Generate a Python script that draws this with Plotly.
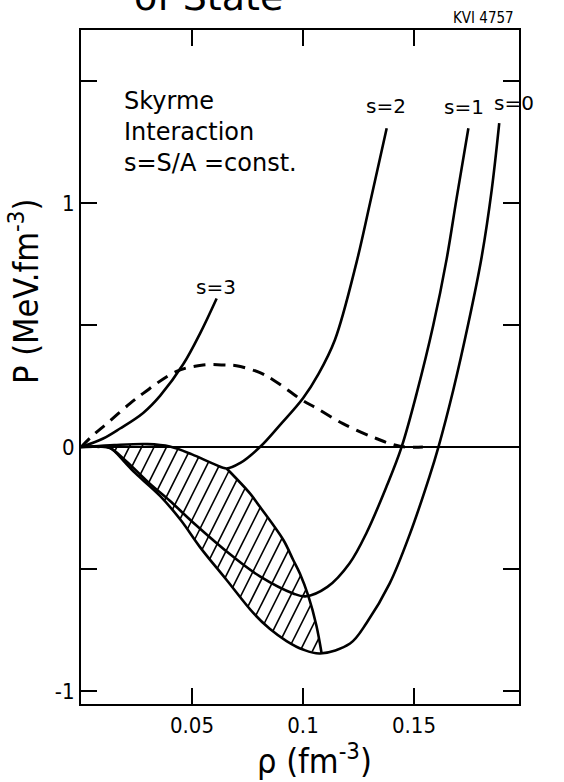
import numpy as np
import plotly.graph_objects as go

# ---------------- data ----------------
rho_s0 = [0.0, 0.007, 0.013, 0.020, 0.0236, 0.0356, 0.045, 0.0536, 0.0656, 0.0776, 0.085,
          0.0926, 0.100, 0.1077, 0.1212, 0.1287, 0.139, 0.148, 0.157, 0.161, 0.1677,
          0.1745, 0.1805, 0.185, 0.1884]
p_s0 = [0.0, 0.001, -0.003, -0.065, -0.10, -0.20, -0.30, -0.41, -0.545, -0.68, -0.745,
        -0.795, -0.83, -0.846, -0.805, -0.72, -0.56, -0.36, -0.12, 0.0, 0.234,
        0.507, 0.78, 1.053, 1.327]

rho_s1 = [0.0, 0.007, 0.013, 0.020, 0.031, 0.040, 0.0506, 0.0686, 0.0806, 0.0956, 0.101,
          0.111, 0.121, 0.1287, 0.1377, 0.1444, 0.1512, 0.1587, 0.1647, 0.1692, 0.1745]
p_s1 = [0.0, 0.001, -0.004, -0.055, -0.15, -0.22, -0.31, -0.45, -0.53, -0.60, -0.612,
        -0.573, -0.476, -0.35, -0.16, 0.0, 0.22, 0.50, 0.77, 1.02, 1.306]

rho_s2 = [0.0, 0.008, 0.015, 0.030, 0.040, 0.050, 0.060, 0.0656, 0.0716, 0.0806, 0.0896,
          0.100, 0.107, 0.1144, 0.1242, 0.1302, 0.1377]
p_s2 = [0.0, 0.004, 0.008, 0.012, 0.002, -0.03, -0.07, -0.088, -0.066, 0.0, 0.09,
        0.20, 0.30, 0.44, 0.76, 1.0, 1.306]

rho_s3 = [0.0, 0.010, 0.0176, 0.028, 0.0356, 0.0461, 0.0536, 0.0611]
p_s3 = [0.0, 0.035, 0.076, 0.14, 0.21, 0.34, 0.465, 0.609]

rho_dash = [0.0, 0.0056, 0.0116, 0.022, 0.028, 0.043, 0.055, 0.065, 0.070, 0.0806, 0.0866,
            0.100, 0.106, 0.118, 0.133, 0.1437, 0.154]
p_dash = [0.0, 0.05, 0.096, 0.178, 0.22, 0.31, 0.336, 0.336, 0.333, 0.305, 0.275,
          0.19, 0.16, 0.096, 0.035, 0.003, 0.0]

# boundary of the hatched (unstable) region: locus from s=2 minimum to s=0 minimum
rho_locus = [0.0656, 0.0761, 0.0806, 0.0911, 0.0956, 0.0986, 0.1024, 0.1060, 0.1084]
p_locus = [-0.088, -0.19, -0.245, -0.38, -0.463, -0.518, -0.61, -0.73, -0.846]

x_tickvals = [0.05, 0.1, 0.15]
x_ticktext = ["0.05", "0.1", "0.15"]
y_tickvals = [-1, -0.5, 0, 0.5, 1, 1.5]
y_ticktext = ["-1", "", "0", "", "1", ""]

curve_labels = ["s=0", "s=1", "s=2", "s=3"]

# ---------------- layout geometry ----------------
W, H = 564, 782
ML, MR, MT, MB = 81, 45, 30, 78
PW, PH = W - ML - MR, H - MT - MB
X0, X1 = 0.0, 0.1973
Y0, Y1 = -1.053, 1.709
PXR = PW / (X1 - X0)
PXP = PH / (Y1 - Y0)


def paper(xp, yp):
    return (xp - ML) / PW, (H - MB - yp) / PH


# ---------------- hatch computation ----------------
def build_polygon():
    r2 = np.array(rho_s2); q2 = np.array(p_s2)
    r0 = np.array(rho_s0); q0 = np.array(p_s0)
    m2 = (r2 >= 0.008) & (r2 <= 0.0656)
    m0 = (r0 >= 0.013) & (r0 <= 0.1077)
    px = np.concatenate([r2[m2], np.array(rho_locus[1:]), r0[m0][::-1]])
    py = np.concatenate([q2[m2], np.array(p_locus[1:]), q0[m0][::-1]])
    return px, py


def inside(xs, ys, px, py):
    res = np.zeros_like(xs, dtype=bool)
    n = len(px)
    j = n - 1
    with np.errstate(divide="ignore", invalid="ignore"):
        for i in range(n):
            xi, yi, xj, yj = px[i], py[i], px[j], py[j]
            c = ((yi > ys) != (yj > ys)) & (xs < (xj - xi) * (ys - yi) / (yj - yi) + xi)
            res ^= c
            j = i
    return res


HATCH_SLOPE = 2.0
HATCH_GAP = 12.4
k = PXP / (PXR * HATCH_SLOPE)
gap = HATCH_GAP / PXR
polx, poly = build_polygon()
cvals = polx - k * poly
hx, hy = [], []
Ps = np.linspace(-0.95, 0.1, 4000)
for c in np.arange(cvals.min() + gap * 0.5, cvals.max(), gap):
    rs = c + k * Ps
    ins = inside(rs, Ps, polx, poly)
    if not ins.any():
        continue
    idx = np.where(ins)[0]
    breaks = np.where(np.diff(idx) > 1)[0]
    starts = np.concatenate([[idx[0]], idx[breaks + 1]])
    ends = np.concatenate([idx[breaks], [idx[-1]]])
    for s, e in zip(starts, ends):
        hx += [rs[s], rs[e], None]
        hy += [Ps[s], Ps[e], None]

# ---------------- figure ----------------
fig = go.Figure()
fig.add_trace(go.Scatter(x=hx, y=hy, mode="lines", line=dict(color="black", width=1.6),
                         hoverinfo="skip", showlegend=False))
for xs, ys in [(rho_s0, p_s0), (rho_s1, p_s1), (rho_s2, p_s2), (rho_s3, p_s3)]:
    fig.add_trace(go.Scatter(x=xs, y=ys, mode="lines",
                             line=dict(color="black", width=2.6, shape="spline", smoothing=1.0),
                             showlegend=False))
fig.add_trace(go.Scatter(x=rho_locus, y=p_locus, mode="lines",
                         line=dict(color="black", width=2.6, shape="spline", smoothing=1.0),
                         showlegend=False))
fig.add_trace(go.Scatter(x=rho_dash, y=p_dash, mode="lines",
                         line=dict(color="black", width=3, dash="12px,8px", shape="spline",
                                   smoothing=1.0),
                         showlegend=False))

FONT = "DejaVu Sans Condensed, Liberation Sans Narrow, DejaVu Sans, sans-serif"
FONT2 = "DejaVu Sans, sans-serif"

anns = []


def add_text(text, xp, yp, size, family=FONT, xanchor="center", yanchor="middle", angle=0):
    x, y = paper(xp, yp)
    anns.append(dict(text=text, x=x, y=y, xref="paper", yref="paper", showarrow=False,
                     xanchor=xanchor, yanchor=yanchor, textangle=angle,
                     font=dict(family=family, size=size, color="black")))


add_text("Skyrme", 122, 101, 24, FONT2, xanchor="left")
add_text("Interaction", 122, 132, 24, FONT2, xanchor="left")
add_text("s=S/A =const.", 122, 163, 24, FONT2, xanchor="left")
add_text(curve_labels[2], 386, 106, 20, FONT2)
add_text(curve_labels[1], 464, 107, 20, FONT2)
add_text(curve_labels[0], 514, 103, 20, FONT2)
add_text(curve_labels[3], 216, 287, 20, FONT2)
add_text("KVI 4757", 483, 18, 15, FONT)
add_text("of State", 208, -3, 38, FONT2)
add_text("P (MeV.fm<sup>-3</sup>)", 24, 292, 34, FONT, angle=-90)
add_text("ρ (fm<sup>-3</sup>)", 314, 759, 34, FONT)

axis_common = dict(showline=True, linecolor="black", linewidth=2, mirror="ticks",
                   ticks="inside", ticklen=16, tickwidth=2, tickcolor="black",
                   showgrid=False, tickfont=dict(family=FONT, size=22, color="black"))

fig.update_layout(
    width=W, height=H,
    margin=dict(l=ML, r=MR, t=MT, b=MB, pad=0),
    paper_bgcolor="white", plot_bgcolor="white",
    showlegend=False,
    annotations=anns,
    xaxis=dict(range=[X0, X1], tickvals=x_tickvals, ticktext=x_ticktext, zeroline=False,
               ticklabelstandoff=1, **axis_common),
    yaxis=dict(range=[Y0, Y1], tickvals=y_tickvals, ticktext=y_ticktext, zeroline=True,
               zerolinecolor="black", zerolinewidth=2, **axis_common),
)

fig.write_html("out.html")
